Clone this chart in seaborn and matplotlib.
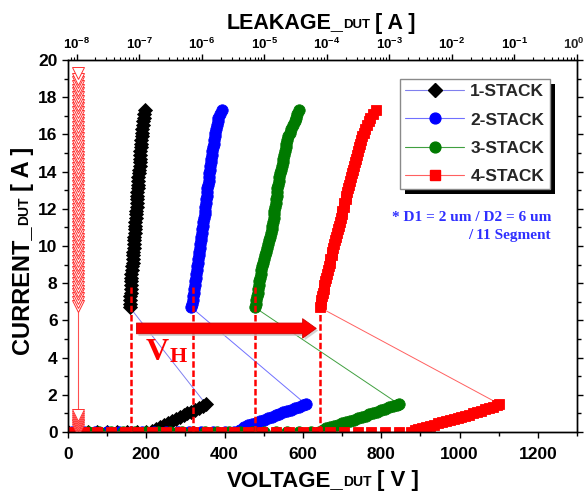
import matplotlib
matplotlib.use("Agg")
import numpy as np
import pandas as pd
import matplotlib.pyplot as plt
import seaborn as sns
from matplotlib.lines import Line2D
from matplotlib.patches import Rectangle
from matplotlib.transforms import IdentityTransform
from matplotlib.ticker import MultipleLocator, FixedLocator, FixedFormatter, LogLocator, NullFormatter

# ---------------- data ----------------
series_names = ["1-STACK", "2-STACK", "3-STACK", "4-STACK"]

# off-state sweep points lying on ~0 A
base_v_1 = [0, 25, 50, 75, 100, 125, 150, 175, 200]
base_v_2 = [10, 40, 70, 100, 130, 160, 190, 220, 250, 280, 310, 340, 370, 400, 425]
base_v_3 = [20, 50, 80, 110, 140, 170, 200, 230, 260, 290, 320, 350, 380, 410, 440,
            470, 500, 530, 560, 590, 620, 640]
base_v_4 = [5, 40, 75, 110, 145, 180, 215, 250, 285, 320, 355, 390, 425, 460, 495,
            530, 565, 600, 635, 670, 705, 740, 775, 810, 845, 875]

# trigger (low current) branch
low_v_1 = [215, 225, 235, 245, 255, 265, 275, 285, 295, 305, 315, 325, 335, 345, 352]
low_i_1 = [0.05, 0.15, 0.27, 0.38, 0.49, 0.60, 0.70, 0.80, 0.90, 1.00, 1.10, 1.20, 1.30, 1.40, 1.50]
low_v_2 = [440, 450, 460, 470, 480, 490, 500, 510, 520, 530, 540, 550, 560, 570, 580, 590, 600, 607]
low_i_2 = [0.10, 0.25, 0.35, 0.42, 0.50, 0.58, 0.66, 0.74, 0.82, 0.90, 0.97, 1.05, 1.12, 1.20,
           1.28, 1.35, 1.43, 1.50]
low_v_3 = [650, 660, 670, 680, 690, 700, 710, 720, 730, 740, 750, 760, 770, 780, 790, 800, 810,
           820, 830, 840, 845]
low_i_3 = [0.10, 0.20, 0.26, 0.33, 0.40, 0.47, 0.54, 0.60, 0.67, 0.74, 0.81, 0.88, 0.95, 1.02,
           1.10, 1.18, 1.25, 1.32, 1.39, 1.46, 1.50]
low_v_4 = [885, 895, 905, 915, 925, 935, 945, 955, 965, 975, 985, 995, 1005, 1015, 1025, 1035,
           1045, 1055, 1065, 1075, 1085, 1095, 1102]
low_i_4 = [0.10, 0.15, 0.20, 0.27, 0.33, 0.40, 0.47, 0.53, 0.59, 0.65, 0.70, 0.76, 0.82, 0.88,
           0.94, 1.00, 1.07, 1.14, 1.21, 1.28, 1.36, 1.44, 1.50]

# holding (high current) branch
high_i = [6.7, 6.9, 7.1, 7.3, 7.5, 7.7, 7.9, 8.1, 8.3, 8.5,
          8.7, 8.9, 9.1, 9.3, 9.5, 9.7, 9.9, 10.1, 10.3, 10.5,
          10.7, 10.9, 11.1, 11.3, 11.5, 11.7, 11.9, 12.1, 12.3, 12.5,
          12.7, 12.9, 13.1, 13.3, 13.5, 13.7, 13.9, 14.1, 14.3, 14.5,
          14.7, 14.9, 15.1, 15.3, 15.5, 15.7, 15.9, 16.1, 16.3, 16.5,
          16.7, 16.9, 17.1, 17.3]
high_v_1 = [158, 158, 159, 159, 160, 160, 161, 161, 162, 162,
            163, 164, 165, 165, 166, 167, 168, 168, 169, 169,
            170, 171, 171, 172, 173, 173, 174, 175, 175, 176,
            177, 177, 178, 179, 180, 180, 181, 182, 183, 183,
            184, 185, 185, 186, 187, 187, 188, 189, 190, 191,
            192, 193, 195, 197]
high_v_2 = [315, 316, 318, 319, 321, 322, 324, 325, 327, 328,
            329, 330, 332, 333, 334, 335, 337, 338, 339, 340,
            342, 343, 345, 346, 348, 349, 350, 351, 352, 353,
            354, 355, 356, 357, 359, 360, 361, 362, 363, 364,
            366, 367, 369, 370, 372, 373, 375, 376, 378, 380,
            382, 384, 388, 394]
high_v_3 = [477, 479, 481, 482, 484, 485, 487, 488, 490, 492,
            494, 496, 499, 501, 504, 506, 509, 511, 514, 516,
            518, 520, 522, 524, 525, 526, 527, 529, 530, 531,
            533, 534, 535, 537, 538, 540, 542, 544, 546, 548,
            550, 552, 554, 556, 558, 560, 562, 566, 570, 575,
            580, 583, 586, 590]
high_v_4 = [643, 645, 647, 649, 651, 653, 655, 657, 659, 661,
            663, 666, 668, 670, 673, 675, 678, 680, 683, 685,
            687, 690, 692, 694, 697, 699, 701, 704, 706, 709,
            711, 713, 716, 718, 721, 723, 726, 728, 730, 733,
            735, 738, 740, 742, 745, 748, 752, 755, 759, 763,
            768, 772, 778, 787]

# holding voltages marked with dashed lines
vh_values = [161, 319, 477, 644]
vh_top = 7.8

# leakage after each pulse (top log axis)
leak_i = [0.1, 0.2, 0.3, 0.4, 0.5, 0.6, 0.7, 0.8, 0.9,
          6.8, 7.0, 7.2, 7.4, 7.6, 7.8, 8.0, 8.2, 8.4, 8.6, 8.8, 9.0, 9.2, 9.4, 9.6, 9.8,
          10.0, 10.2, 10.4, 10.6, 10.8, 11.0, 11.2, 11.4, 11.6, 11.8, 12.0, 12.2, 12.4, 12.6,
          12.8, 13.0, 13.2, 13.4, 13.6, 13.8, 14.0, 14.2, 14.4, 14.6, 14.8, 15.0, 15.2, 15.4,
          15.6, 15.8, 16.0, 16.2, 16.4, 16.6, 16.8, 17.0, 17.2, 17.4, 17.6, 17.8, 18.0, 18.2,
          18.4, 18.6, 18.8, 19.0, 19.3]
leak_a = [1.05e-8] * len(leak_i)

top_tick_vals = [1e-8, 1e-7, 1e-6, 1e-5, 1e-4, 1e-3, 1e-2, 1e-1, 1e0]
top_tick_labels = [r"$\mathdefault{10^{-8}}$", r"$\mathdefault{10^{-7}}$", r"$\mathdefault{10^{-6}}$",
                   r"$\mathdefault{10^{-5}}$", r"$\mathdefault{10^{-4}}$", r"$\mathdefault{10^{-3}}$",
                   r"$\mathdefault{10^{-2}}$", r"$\mathdefault{10^{-1}}$", r"$\mathdefault{10^{0}}$"]

# ---------------- style ----------------
sns.set_theme(style="ticks")
plt.rcParams['font.family'] = ['Liberation Sans', 'DejaVu Sans']
plt.rcParams['font.weight'] = 'bold'
plt.rcParams['axes.linewidth'] = 1.0
plt.rcParams['axes.edgecolor'] = 'black'
plt.rcParams['xtick.color'] = 'black'
plt.rcParams['ytick.color'] = 'black'

SANS = ['Liberation Sans', 'DejaVu Sans']
SERIF = ['Liberation Serif', 'DejaVu Serif']

W, H = 586, 491
fig = plt.figure(figsize=(W / 100, H / 100), dpi=100)
ax = fig.add_axes([68 / W, (H - 432) / H, 509 / W, 372 / H])

styles = [
    dict(name=series_names[0], mk='D', ms=7.2, mc='black', lc='#8080ee'),
    dict(name=series_names[1], mk='o', ms=8.2, mc='#0000ff', lc='#7070ff'),
    dict(name=series_names[2], mk='o', ms=8.2, mc='#007a00', lc='#40a040'),
    dict(name=series_names[3], mk='s', ms=7.4, mc='#ff0000', lc='#ff6060'),
]
bases = [base_v_1, base_v_2, base_v_3, base_v_4]
lows = [(low_v_1, low_i_1), (low_v_2, low_i_2), (low_v_3, low_i_3), (low_v_4, low_i_4)]
highs = [high_v_1, high_v_2, high_v_3, high_v_4]

frames = []
for st, bv, (lv, li), hv in zip(styles, bases, lows, highs):
    v = list(bv) + list(lv) + list(hv)
    i = [0.0] * len(bv) + list(li) + list(high_i)
    frames.append(pd.DataFrame({"voltage": v, "current": i, "series": st['name']}))

for st, df in zip(styles, frames):
    sns.lineplot(data=df, x="voltage", y="current", ax=ax, sort=False, estimator=None,
                 errorbar=None, color=st['lc'], lw=0.7, marker=st['mk'], markersize=st['ms'],
                 markerfacecolor=st['mc'], markeredgecolor=st['mc'], markeredgewidth=0.6)

ax.set_xlim(0, 1300)
ax.set_ylim(0, 20)
ax.set_xlabel("")
ax.set_ylabel("")
ax.xaxis.set_major_locator(MultipleLocator(200))
ax.xaxis.set_minor_locator(MultipleLocator(100))
ax.yaxis.set_major_locator(MultipleLocator(2))
ax.yaxis.set_minor_locator(MultipleLocator(1))
ax.tick_params(axis='both', which='major', direction='out', length=4.5, width=1,
               labelsize=12.5, pad=3)
ax.tick_params(axis='x', which='major', pad=6)
ax.tick_params(axis='both', which='minor', direction='out', length=3, width=1)
ax.tick_params(axis='y', which='both', right=True, labelright=False)
for lab in ax.get_xticklabels() + ax.get_yticklabels():
    lab.set_fontweight('bold')
    lab.set_family(SANS)
for s in ax.spines.values():
    s.set_visible(True)
    s.set_color('black')
    s.set_linewidth(1.0)

# dashed holding-voltage markers
ax.vlines(vh_values, 0, vh_top, colors='#ff0000', linestyles=(0, (2.6, 1.1)), lw=1.8, zorder=6)

# arrow (with soft shadow)
ax.annotate('', xy=(634 + 5, 5.57 - 0.12), xytext=(175 + 5, 5.57 - 0.12),
            arrowprops=dict(arrowstyle='simple,head_length=0.7,head_width=1.0,tail_width=0.55',
                            mutation_scale=14, fc='#c8c8c8', ec='none', alpha=0.8,
                            shrinkA=0, shrinkB=0), zorder=6)
ax.annotate('', xy=(634, 5.57), xytext=(175, 5.57),
            arrowprops=dict(arrowstyle='simple,head_length=0.7,head_width=1.0,tail_width=0.55',
                            mutation_scale=14, fc='#ff0000', ec='#d00000', lw=0.6,
                            shrinkA=0, shrinkB=0), zorder=7)

# top log axis with leakage
ax2 = ax.twiny()
ax2.set_xscale('log')
sns.lineplot(x=leak_a, y=leak_i, ax=ax2, sort=False, estimator=None, errorbar=None,
             color='#ff5050', lw=0.8, marker='v', markersize=8, markerfacecolor='white',
             markeredgecolor='#ff3030', markeredgewidth=0.7)
ax2.set_xlim(10 ** -8.137, 1.0)
ax.set_ylim(0, 20)
ax2.set_xlabel("")
ax2.xaxis.set_major_locator(FixedLocator(top_tick_vals))
# last label (at the very right edge) is drawn separately, nudged inside the image
ax2.xaxis.set_major_formatter(FixedFormatter(top_tick_labels[:-1] + [""]))
ax2.xaxis.set_minor_locator(LogLocator(base=10, subs=np.arange(2, 10)))
ax2.xaxis.set_minor_formatter(NullFormatter())
ax2.tick_params(axis='x', which='major', direction='out', length=4.5, width=1, labelsize=9.5, pad=1.5)
ax2.tick_params(axis='x', which='minor', direction='out', length=2.5, width=0.8)
for lab in ax2.get_xticklabels():
    lab.set_fontweight('bold')
    lab.set_family(SANS)
for s in ax2.spines.values():
    s.set_color('black')
    s.set_linewidth(1.0)
ax2.annotate(top_tick_labels[-1], xy=(top_tick_vals[-1], 1.0), xycoords=ax2.get_xaxis_transform(),
             xytext=(-2.5, 6), textcoords='offset points', ha='center', va='bottom',
             fontsize=9.5, fontweight='bold', family=SANS, annotation_clip=False)

# legend
handles = [Line2D([0], [0], color=st['lc'], lw=0.8, marker=st['mk'], markersize=st['ms'] * 0.95,
                  markerfacecolor=st['mc'], markeredgecolor=st['mc']) for st in styles]
leg = ax2.legend(handles, series_names, loc='upper left', bbox_to_anchor=(400 / W, 1 - 79 / H),
                 bbox_transform=fig.transFigure, borderaxespad=0, frameon=True, fancybox=False,
                 framealpha=1, edgecolor='#8a8a8a', handlelength=3.4, handletextpad=0.35,
                 labelspacing=0.75, borderpad=0.3, prop=dict(family=SANS, weight='bold', size=12.5))
leg.get_frame().set_linewidth(1.0)

# blue note
ax2.text(551 / W, 1 - 221 / H, "* D1 = 2 um / D2 = 6 um", transform=fig.transFigure,
         ha='right', va='baseline', color='#2f2fff', family=SERIF, weight='bold', fontsize=11)
ax2.text(551 / W, 1 - 239 / H, "/ 11 Segment", transform=fig.transFigure,
         ha='right', va='baseline', color='#2f2fff', family=SERIF, weight='bold', fontsize=11)

fig.canvas.draw()
renderer = fig.canvas.get_renderer()


def text_width(s, size, family):
    t = fig.text(0, 0, s, fontsize=size, fontweight='bold', family=family)
    w = t.get_window_extent(renderer).width
    t.remove()
    return w


def mixed_text(x, y, parts, rotation=0, family=SANS, color='black'):
    """parts: list of (string, fontsize, gap_before_px, baseline_shift_px). x,y: baseline centre in px."""
    widths = [text_width(s, sz, family) for s, sz, g, d in parts]
    total = sum(widths) + sum(g for s, sz, g, d in parts)
    pos = -total / 2
    for (s, sz, g, d), w in zip(parts, widths):
        pos += g
        if rotation == 0:
            px, py = x + pos, y + d
        else:
            px, py = x - d, y + pos
        fig.text(px, py, s, transform=IdentityTransform(), rotation=rotation,
                 rotation_mode='anchor', ha='left', va='baseline', fontsize=sz,
                 fontweight='bold', family=family, color=color)
        pos += w


mixed_text(322.5, 5, [("VOLTAGE_", 16, 0, 0), ("DUT", 10, 0, 0), ("[ V ]", 16, 5, 0)])
mixed_text(321, H - 28.5, [("LEAKAGE_", 15.5, 0, 0), ("DUT", 9.5, 0, 0), ("[ A ]", 15.5, 5, 0)])
mixed_text(28.5, H - 250, [("CURRENT_", 17, 0, 0), ("DUT", 10, 0, 0), ("[ A ]", 17, 6, 0)],
           rotation=90)

# V_H label
vx, vy = 198, 3.87
ax2.annotate("V", xy=(vx, vy), xycoords=ax.transData, ha='left', va='baseline',
             fontsize=23, color='#ff0000', family=SERIF, weight='bold', annotation_clip=False)
wv = text_width("V", 23, SERIF)
ax2.annotate("H", xy=(vx, vy), xycoords=ax.transData, xytext=(wv + 0.5, -1.5),
             textcoords='offset pixels', ha='left', va='baseline', fontsize=16,
             color='#ff0000', family=SERIF, weight='bold', annotation_clip=False)

# legend shadow
fig.canvas.draw()
bb = leg.get_frame().get_window_extent(renderer)
shadow = Rectangle((bb.x0 + 5, bb.y0 - 5), bb.width, bb.height, transform=IdentityTransform(),
                   facecolor='black', edgecolor='none', zorder=leg.get_zorder() - 0.5, clip_on=False)
ax2.add_artist(shadow)

fig.savefig("out.png", dpi=100)
